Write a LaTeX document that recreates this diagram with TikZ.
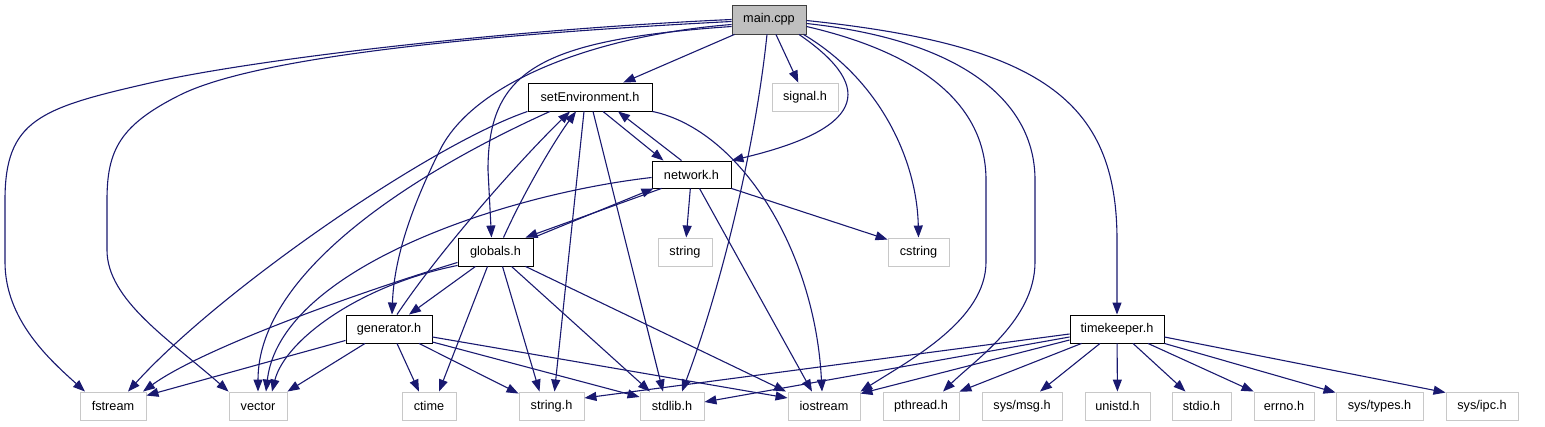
\documentclass[tikz,border=0pt]{standalone}
\usepackage{fontspec}
\setmainfont{Liberation Sans}
\usetikzlibrary{arrows.meta}
\definecolor{edgeblue}{RGB}{25,25,112}
\definecolor{sysgray}{RGB}{200,200,200}
\definecolor{maingray}{RGB}{191,191,191}

\begin{document}
\begin{tikzpicture}[x=1pt,y=-1pt,>={Triangle[length=12pt,width=9pt]}]
\tikzset{box/.style={draw=black,line width=0.9pt,fill=white,minimum height=28pt,inner sep=0pt,font=\fontsize{12.7}{14}\selectfont},
  sysbox/.style={box,draw=sysgray},
  dep/.style={->,draw=edgeblue,fill=none,line width=1.1pt}}
\useasboundingbox (0,0) rectangle (1545,427);
% project headers
\node[box,fill=maingray,draw=black!75,minimum width=74pt,minimum height=29pt] (main) at (769,19.5) {main.cpp};
\node[box,minimum width=124pt] (setenv) at (590,97) {setEnvironment.h};
\node[sysbox,minimum width=66pt] (signal) at (805,97) {signal.h};
\node[box,minimum width=79pt,minimum height=27pt] (network) at (691.5,174.5) {network.h};
\node[box,minimum width=75pt] (globals) at (495.5,252) {globals.h};
\node[sysbox,minimum width=54pt] (str) at (685,252) {string};
\node[sysbox,minimum width=61pt] (cstring) at (918.5,252) {cstring};
\node[box,minimum width=86pt] (generator) at (389,329) {generator.h};
\node[box,minimum width=94pt] (timekeeper) at (1117,329) {timekeeper.h};
% system headers
\node[sysbox,minimum width=66pt] (fstream) at (113,406) {fstream};
\node[sysbox,minimum width=58pt] (vector) at (258,406) {vector};
\node[sysbox,minimum width=54pt] (ctime) at (429,406) {ctime};
\node[sysbox,minimum width=65pt] (stringh) at (551.5,406) {string.h};
\node[sysbox,minimum width=64pt] (stdlib) at (672,406) {stdlib.h};
\node[sysbox,minimum width=72pt] (iostream) at (824,406) {iostream};
\node[sysbox,minimum width=76pt] (pthread) at (921,406) {pthread.h};
\node[sysbox,minimum width=80pt] (sysmsg) at (1022,406) {sys/msg.h};
\node[sysbox,minimum width=65pt] (unistd) at (1117.5,406) {unistd.h};
\node[sysbox,minimum width=59pt] (stdio) at (1201.5,406) {stdio.h};
\node[sysbox,minimum width=60pt] (errno) at (1284,406) {errno.h};
\node[sysbox,minimum width=87pt] (systypes) at (1379.5,406) {sys/types.h};
\node[sysbox,minimum width=72pt] (sysipc) at (1482,406) {sys/ipc.h};

% main.cpp
\draw[dep] (main.west) .. controls (500,30) and (250,60) .. (150,83) .. controls (40,108) and (5,120) .. (5,200)
  -- (5,262) .. controls (5,320) and (50,360) .. ([xshift=-28pt]fstream.north);
\draw[dep] ([yshift=-2pt]main.west) .. controls (450,36) and (250,60) .. (180,95) .. controls (120,125) and (107,150) .. (107,200)
  -- (107,250) .. controls (107,300) and (170,340) .. (vector.north west);
\draw[dep] (main) -- (setenv);
\draw[dep] ([yshift=-7pt]main.west) .. controls (540,40) and (488,70) .. (488,170) -- ([xshift=-4pt]globals.north);
\draw[dep] ([yshift=-5pt]main.west) .. controls (600,35) and (475,80) .. (440,150) .. controls (410,210) and (394,260) .. ([xshift=3pt]generator.north);
\draw[dep] (main) -- (signal);
\draw[dep] ([xshift=-2pt]main.south) .. controls (755,150) and (720,290) .. ([xshift=10pt]stdlib.north);
\draw[dep] ([xshift=30pt]main.south) .. controls (880,90) and (860,130) .. (network.north east);
\draw[dep] ([xshift=-3pt]main.south east) .. controls (880,80) and (917,160) .. (cstring.north);
\draw[dep] ([yshift=-7pt]main.east) .. controls (930,55) and (986,110) .. (986,180) -- (986,262)
  .. controls (986,320) and (910,360) .. (iostream.north east);
\draw[dep] ([yshift=-4pt]main.east) .. controls (960,40) and (1035,100) .. (1035,180) -- (1035,262)
  .. controls (1035,320) and (975,360) .. ([xshift=22pt]pthread.north);
\draw[dep] ([yshift=-1pt]main.east) .. controls (1040,45) and (1117,100) .. (1117,240) -- (timekeeper.north);

% setEnvironment.h
\draw[dep] (setenv.south west) .. controls (430,145) and (220,290) .. ([xshift=15pt]fstream.north);
\draw[dep] ([xshift=-40pt]setenv.south) .. controls (420,170) and (258,270) .. (vector.north);
\draw[dep] ([xshift=-6pt]setenv.south) -- ([xshift=3pt]stringh.north);
\draw[dep] ([xshift=3pt]setenv.south) -- ([xshift=-9pt]stdlib.north);
\draw[dep] ([xshift=13pt]setenv.south) -- ([xshift=-28pt]network.north);
\draw[dep] (setenv.south east) .. controls (740,130) and (815,250) .. ([xshift=-2pt]iostream.north);

% network.h
\draw[dep] ([xshift=-10pt]network.north) -- ([xshift=28pt]setenv.south);
\draw[dep] ([xshift=-30pt]network.south) -- ([xshift=30pt]globals.north);
\draw[dep] ([yshift=-3pt]network.west) .. controls (500,195) and (280,270) .. ([xshift=8pt]vector.north);
\draw[dep] (network) -- (str);
\draw[dep] ([xshift=8pt]network.south) -- ([xshift=-12pt]iostream.north);
\draw[dep] (network.south east) -- ([yshift=-2pt]cstring.north west);

% globals.h
\draw[dep] ([xshift=8pt]globals.north) .. controls (525,190) and (555,140) .. ([xshift=-14pt]setenv.south);
\draw[dep] (globals.north east) -- ([xshift=-38pt]network.south);
\draw[dep] ([yshift=4pt]globals.south west) .. controls (350,295) and (200,350) .. ([xshift=30pt]fstream.north);
\draw[dep] ([yshift=1pt]globals.south west) .. controls (360,285) and (285,340) .. ([xshift=14pt]vector.north);
\draw[dep] ([xshift=-20pt]globals.south) -- ([xshift=20pt]generator.north);
\draw[dep] ([xshift=-8pt]globals.south) -- ([xshift=10pt]ctime.north);
\draw[dep] ([xshift=7pt]globals.south) -- ([xshift=-12pt]stringh.north);
\draw[dep] ([xshift=16pt]globals.south) -- ([xshift=-22pt]stdlib.north);
\draw[dep] ([xshift=30pt]globals.south) -- ([xshift=-38pt]iostream.north);

% generator.h
\draw[dep] ([xshift=8pt]generator.north) .. controls (440,250) and (520,160) .. ([xshift=-20pt]setenv.south);
\draw[dep] ([yshift=3pt]generator.south west) -- ([yshift=-4pt]fstream.north east);
\draw[dep] ([xshift=-24pt]generator.south) -- (vector.north east);
\draw[dep] ([xshift=8pt]generator.south) -- ([xshift=-10pt]ctime.north);
\draw[dep] ([xshift=30pt]generator.south) -- ([yshift=-2pt]stringh.north west);
\draw[dep] ([yshift=-13pt]generator.east) -- ([yshift=9pt]stdlib.west);
\draw[dep] ([yshift=-8pt]generator.east) -- ([yshift=8pt]iostream.west);

% timekeeper.h
\draw[dep] ([yshift=-5pt]timekeeper.west) -- ([yshift=8pt]stringh.east);
\draw[dep] ([yshift=-8pt]timekeeper.west) -- ([yshift=4pt]stdlib.east);
\draw[dep] ([yshift=-11pt]timekeeper.west) -- ([yshift=-2pt]iostream.north east);
\draw[dep] ([xshift=12pt]timekeeper.south west) -- (pthread.north east);
\draw[dep] ([xshift=-17pt]timekeeper.south) -- ([xshift=18pt]sysmsg.north);
\draw[dep] (timekeeper) -- (unistd);
\draw[dep] ([xshift=16pt]timekeeper.south) -- ([xshift=-16pt]stdio.north);
\draw[dep] ([xshift=31pt]timekeeper.south) -- (errno.north west);
\draw[dep] (timekeeper.south east) -- ([yshift=-1pt]systypes.north west);
\draw[dep] ([yshift=-8pt]timekeeper.east) -- ([yshift=-1pt]sysipc.north west);
\end{tikzpicture}
\end{document}
